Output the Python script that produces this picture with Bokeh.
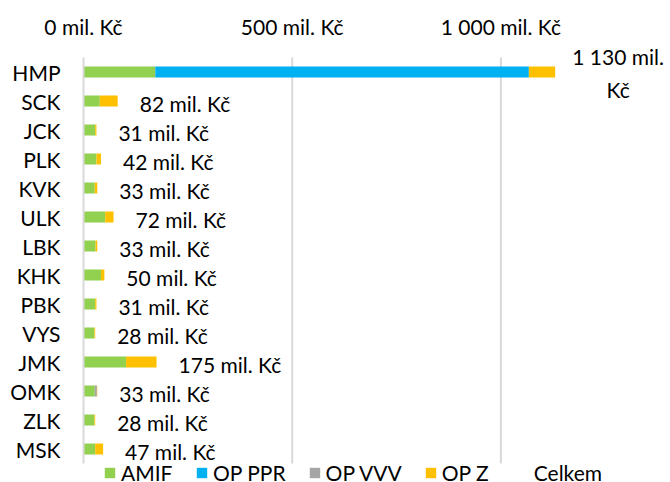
from bokeh.plotting import figure
from bokeh.models import (ColumnDataSource, Range1d, FixedTicker,
                          Legend, LegendItem)
from bokeh.core.properties import value
from bokeh.embed import file_html
from bokeh.resources import INLINE

# ---- data (mil. Kč) ----
regions = ["HMP", "SCK", "JCK", "PLK", "KVK", "ULK", "LBK", "KHK",
           "PBK", "VYS", "JMK", "OMK", "ZLK", "MSK"]
amif   = [172, 39, 28, 31, 27, 52, 29, 42, 28, 26, 102, 27, 26, 28]
op_ppr = [895, 0, 0, 0, 0, 0, 0, 0, 0, 0, 0, 0, 0, 0]
op_vvv = [0, 0, 0, 0, 0, 0, 0, 0, 0, 0, 0, 5, 0, 0]
op_z   = [63, 43, 3, 11, 6, 20, 4, 8, 3, 2, 73, 1, 2, 19]
celkem = [1130, 82, 31, 42, 33, 72, 33, 50, 31, 28, 175, 33, 28, 47]

series_names = ["AMIF", "OP PPR", "OP VVV", "OP Z"]
series_keys = ["amif", "op_ppr", "op_vvv", "op_z"]
colors = ["#92D050", "#00B0F0", "#A5A5A5", "#FFC000"]

tick_values = [0, 500, 1000]
tick_labels = ["0 mil. Kč", "500 mil. Kč", "1 000 mil. Kč"]

FONT = "Lato"
FS = "21px"
W, H = 670, 482

# layout (pixels)
LEFT = 83            # frame left
TOP = 42             # frame top
ROWS_TOP = 57        # top of the category band
PITCH = 29.0         # pixels per category
PX_PER_UNIT = 0.4174 # x scale


def fmt(v):
    return f"{v:,}".replace(",", " ") + " mil. Kč"


n = len(regions)
ypos = [n - 1 - i for i in range(n)]
y_top = (n - 0.5) + (ROWS_TOP - TOP) / PITCH
y_bot = y_top - (H - TOP) / PITCH
x_end = (W - LEFT) / PX_PER_UNIT

source = ColumnDataSource(dict(y=ypos, region=regions, amif=amif,
                               op_ppr=op_ppr, op_vvv=op_vvv, op_z=op_z,
                               celkem=celkem))

p = figure(width=W, height=H, output_backend="svg", toolbar_location=None,
           y_range=Range1d(y_bot, y_top), x_range=Range1d(0, x_end),
           x_axis_location="above",
           min_border_left=LEFT, min_border_right=0, min_border_top=TOP,
           min_border_bottom=0)
p.outline_line_color = None
p.background_fill_color = "white"
p.border_fill_color = "white"

# gridlines limited to the category band
grid_ticks = [t for t in tick_values if t > 0]
p.segment(x0=grid_ticks, x1=grid_ticks, y0=[-0.5] * len(grid_ticks),
          y1=[n - 0.5] * len(grid_ticks), line_color="#d9d9d9", line_width=2)

renderers = p.hbar_stack(series_keys, y="y", height=0.38, color=colors,
                         line_width=0, line_alpha=0, source=source)
tot_r = p.hbar(y="y", right="celkem", height=0.38, fill_alpha=0,
               line_alpha=0, source=source)

# total labels
small_idx = [i for i, v in enumerate(celkem) if v < 1000]
big_idx = [i for i, v in enumerate(celkem) if v >= 1000]
lab_small = ColumnDataSource(dict(
    y=[ypos[i] for i in small_idx], x=[celkem[i] for i in small_idx],
    t=[fmt(celkem[i]) for i in small_idx]))
lab_big = ColumnDataSource(dict(
    y=[ypos[i] for i in big_idx], x=[celkem[i] for i in big_idx],
    t=[fmt(celkem[i]).replace(" Kč", "\nKč") for i in big_idx]))
p.text(x="x", y="y", text="t", source=lab_small, x_offset=22, y_offset=2,
       text_align="left", text_baseline="middle", text_font=value(FONT),
       text_font_size=FS, text_color="black")
p.text(x="x", y="y", text="t", source=lab_big, x_offset=63, y_offset=1,
       text_align="center", text_baseline="middle", text_font=value(FONT),
       text_font_size=FS, text_color="black", text_line_height=1.33)

# axes
xa = p.xaxis[0]
xa.ticker = FixedTicker(ticks=tick_values)
xa.major_label_overrides = {v: l for v, l in zip(tick_values, tick_labels)}
xa.axis_line_color = None
xa.major_tick_line_color = None
xa.minor_tick_line_color = None
xa.major_tick_out = 0
xa.major_tick_in = 0
xa.major_label_standoff = 4
xa.major_label_text_font = FONT
xa.major_label_text_font_size = FS
xa.major_label_text_color = "black"

ya = p.yaxis[0]
ya.ticker = FixedTicker(ticks=ypos)
ya.major_label_overrides = {y: r for y, r in zip(ypos, regions)}
ya.bounds = (-0.5, n - 0.5)
ya.axis_line_color = "#d9d9d9"
ya.axis_line_width = 2
ya.major_tick_line_color = None
ya.minor_tick_line_color = None
ya.major_tick_out = 0
ya.major_tick_in = 0
ya.major_label_standoff = 23
ya.major_label_text_font = FONT
ya.major_label_text_font_size = FS
ya.major_label_text_color = "black"

p.xgrid.grid_line_color = None
p.ygrid.grid_line_color = None

items = [LegendItem(label=nm, renderers=[r]) for nm, r in zip(series_names, renderers)]
items.append(LegendItem(label="Celkem", renderers=[tot_r]))
legend = Legend(items=items, orientation="horizontal", location=(20, -3),
                glyph_width=13, glyph_height=13, label_standoff=5, spacing=22,
                label_width=52, padding=0, margin=0, label_text_font=FONT,
                label_text_font_size=FS, label_text_color="black",
                border_line_alpha=0, background_fill_alpha=0)
p.add_layout(legend, "center")

open("out.html", "w").write(file_html(p, INLINE))
